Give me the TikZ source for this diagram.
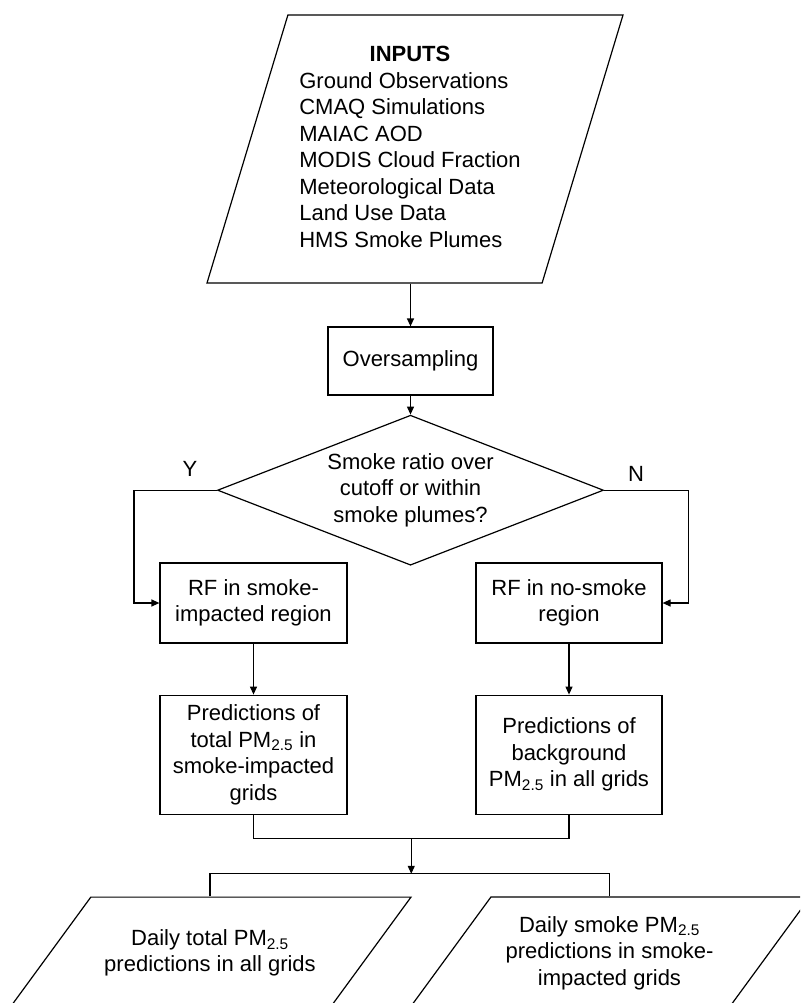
\documentclass[tikz,border=0pt]{standalone}
\usepackage{fontspec}
\setmainfont{Liberation Sans}
\usetikzlibrary{shapes.geometric,arrows.meta,positioning,calc}

\begin{document}
\begin{tikzpicture}[
  x=1pt, y=-1pt,
  every node/.style={font=\fontsize{22}{26.5}\selectfont},
  io/.style={draw, trapezium, trapezium stretches body, line width=1.2pt,
             align=center, inner xsep=2pt},
  box/.style={draw, rectangle, line width=1.2pt, align=center, inner sep=4pt},
  decide/.style={draw, diamond, aspect=2.57, minimum width=386pt,
                 minimum height=150pt, inner sep=0pt, line width=1.2pt, align=center},
  arr/.style={-{Triangle[length=8pt, width=7pt]}, line width=1.2pt},
  link/.style={line width=1.2pt}
]
\useasboundingbox (0,0) rectangle (800,1003);
\clip (0,0) rectangle (800,1003);

\node[io, trapezium left angle=73.2, trapezium right angle=106.8,
      minimum width=416pt, inner ysep=28pt] (inputs) at (415,149)
  {\begin{tabular}{@{}l@{\hspace{10pt}}}
     \multicolumn{1}{@{}c@{\hspace{10pt}}}{\textbf{INPUTS}}\\
     Ground Observations\\
     CMAQ Simulations\\
     MAIAC AOD\\
     MODIS Cloud Fraction\\
     Meteorological Data\\
     Land Use Data\\
     HMS Smoke Plumes
   \end{tabular}};
\node[box, minimum width=165pt, minimum height=68pt] (over) at (410.5,361) {Oversampling};
\node[decide, below=19pt of over] (cond) {Smoke ratio over\\cutoff or within\\smoke plumes?};

\node[box, minimum width=187pt, minimum height=80pt] (rfs) at (253.5,603) {RF in smoke-\\impacted region};
\node[box, minimum width=186pt, minimum height=80pt] (rfn) at (569,603) {RF in no-smoke\\region};
\node[box, minimum width=187pt, minimum height=119pt, below=51pt of rfs] (preds)
  {Predictions of\\total PM\textsubscript{2.5} in\\smoke-impacted\\grids};
\node[box, minimum width=186pt, minimum height=119pt, below=51pt of rfn] (predn)
  {Predictions of\\background\\PM\textsubscript{2.5} in all grids};

\node[io, trapezium left angle=53.8, trapezium right angle=126.2,
      minimum width=402pt, inner ysep=32.4pt] (outl) at (210,953)
  {Daily total PM\textsubscript{2.5}\\predictions in all grids};
\node[io, trapezium left angle=53.8, trapezium right angle=126.2,
      minimum width=401pt, inner ysep=19.2pt] (outr) at (609.5,953)
  {Daily smoke PM\textsubscript{2.5}\\predictions in smoke-\\impacted grids};

% Y / N branch labels
\node (ylab) at ([shift={(-27,-21)}]cond.west) {Y};
\node (nlab) at ([shift={(32,-16)}]cond.east) {N};

\draw[arr] (inputs.south -| over.north) -- (over.north);
\draw[arr] (over) -- (cond);
\draw[arr] (cond.west) -- ++(-83,0) |- (rfs.west);
\draw[arr] (cond.east) -- ++(84,0) |- (rfn.east);
\draw[arr] (rfs) -- (preds);
\draw[arr] (rfn) -- (predn);

% merge both predictions, then split to the two outputs
\draw[link] (preds.south) -- ++(0,24) coordinate (jl) -| (predn.south);
\coordinate (split) at ($(jl)!0.5!(jl -| predn.south) + (0,35)$);
\draw[arr] (split |- jl) -- (split);
\draw[link] (outl.north) |- (split) -| (outr.north);
\end{tikzpicture}
\end{document}
